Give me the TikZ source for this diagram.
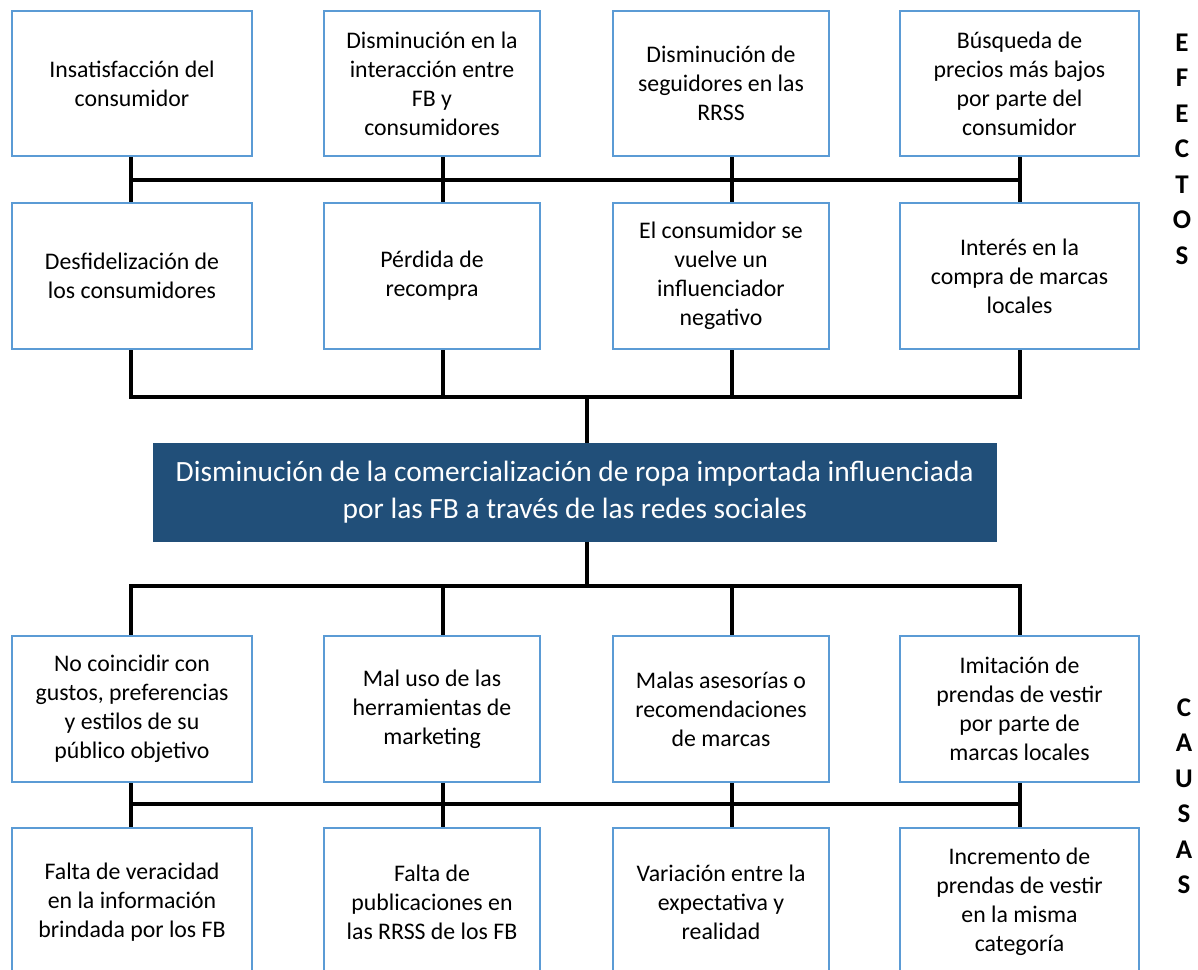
\documentclass[tikz,border=0pt]{standalone}
\usepackage{fontspec}
\setmainfont{Carlito}
\definecolor{boxblue}{RGB}{91,155,213}
\definecolor{navyfill}{RGB}{33,79,121}
\begin{document}
\begin{tikzpicture}[x=1pt,y=-1pt,
  box/.style={draw=boxblue, line width=2pt, fill=white, inner sep=0pt, align=center,
    anchor=north west, font=\fontsize{23.8}{29}\selectfont},
  wA/.style={minimum width=240pt},
  wB/.style={minimum width=216pt},
  wD/.style={minimum width=239pt},
  link/.style={line width=3.5pt, draw=black},
  hlink/.style={line width=3.5pt, draw=black, line cap=rect},
  sidelbl/.style={font=\bfseries\fontsize{27}{35.5}\selectfont, align=center, inner sep=0pt}]
\useasboundingbox (0,0) rectangle (1198,969);
\clip (0,0) rectangle (1198,969);

% column and junction coordinates
\coordinate (k1) at (131,0);
\coordinate (k2) at (443,0);
\coordinate (k3) at (732,0);
\coordinate (k4) at (1020,0);
\coordinate (km) at (587,0);
\coordinate (h1) at (0,180);
\coordinate (h2) at (0,397);
\coordinate (h3) at (0,586);
\coordinate (h4) at (0,804);

% Effects row 1
\node[box, wA, minimum height=145pt] (e11) at (11,10) {Insatisfacción del\\consumidor};
\node[box, wB, minimum height=145pt] (e12) at (323,10) {Disminución en la\\interacción entre\\FB y\\consumidores};
\node[box, wB, minimum height=145pt] (e13) at (612,10) {Disminución de\\seguidores en las\\RRSS};
\node[box, wD, minimum height=145pt] (e14) at (899,10) {Búsqueda de\\precios más bajos\\por parte del\\consumidor};

% Effects row 2
\node[box, wA, minimum height=146pt] (e21) at (11,202) {Desfidelización de\\los consumidores};
\node[box, wB, minimum height=146pt] (e22) at (323,202) {Pérdida de\\recompra};
\node[box, wB, minimum height=146pt] (e23) at (612,202) {El consumidor se\\vuelve un\\influenciador\\negativo};
\node[box, wD, minimum height=146pt] (e24) at (899,202) {Interés en la\\compra de marcas\\locales};

% Central problem
\node[fill=navyfill, draw=navyfill, line width=0.5pt, inner sep=0pt, anchor=north west,
  minimum width=843pt, minimum height=98pt, align=center, text=white,
  font=\fontsize{29.4}{37}\selectfont] (prob) at (153,443)
  {Disminución de la comercialización de ropa importada influenciada\\por las FB a través de las redes sociales};

% Causes row 1
\node[box, wA, minimum height=146pt] (c11) at (11,635) {No coincidir con\\gustos, preferencias\\y estilos de su\\público objetivo};
\node[box, wB, minimum height=146pt] (c12) at (323,635) {Mal uso de las\\herramientas de\\marketing};
\node[box, wB, minimum height=146pt] (c13) at (612,635) {Malas asesorías o\\recomendaciones\\de marcas};
\node[box, wD, minimum height=146pt] (c14) at (899,635) {Imitación de\\prendas de vestir\\por parte de\\marcas locales};

% Causes row 2
\node[box, wA, minimum height=148pt] (c21) at (11,827) {Falta de veracidad\\en la información\\brindada por los FB};
\node[box, wB, minimum height=148pt] (c22) at (323,827) {Falta de\\publicaciones en\\las RRSS de los FB};
\node[box, wB, minimum height=148pt] (c23) at (612,827) {Variación entre la\\expectativa y\\realidad};
\node[box, wD, minimum height=148pt] (c24) at (899,827) {Incremento de\\prendas de vestir\\en la misma\\categoría};

% Side labels
\node[sidelbl] (efectos) at (1182,149) {E\\F\\E\\C\\T\\O\\S};
\node[sidelbl] (causas) at (1184,796) {C\\A\\U\\S\\A\\S};

% Connectors
\foreach \i in {1,2,3,4} {
  \draw[link] (e1\i.south -| k\i) -- (e2\i.north -| k\i);
  \draw[link] (e2\i.south -| k\i) -- (h2 -| k\i);
  \draw[link] (h3 -| k\i) -- (c1\i.north -| k\i);
  \draw[link] (c1\i.south -| k\i) -- (c2\i.north -| k\i);
}
\draw[hlink] (h1 -| k1) -- (h1 -| k4);
\draw[hlink] (h2 -| k1) -- (h2 -| k4);
\draw[link] (h2 -| km) -- (prob.north -| km);
\draw[link] (prob.south -| km) -- (h3 -| km);
\draw[hlink] (h3 -| k1) -- (h3 -| k4);
\draw[hlink] (h4 -| k1) -- (h4 -| k4);
\end{tikzpicture}
\end{document}
